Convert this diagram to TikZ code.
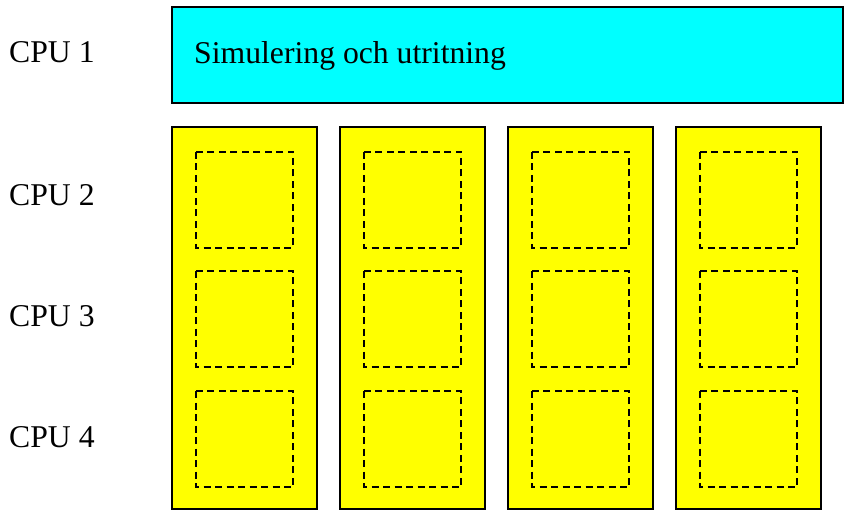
\documentclass[tikz,border=0pt]{standalone}
\usepackage{fontspec}
\setmainfont{Liberation Serif}
\begin{document}
\begin{tikzpicture}[x=1pt,y=-1pt,
  lbl/.style={anchor=base west,inner sep=0pt,font=\fontsize{31.7}{36}\selectfont},
  topbox/.style={draw=black,fill=cyanfill,line width=1.7pt},
  colbox/.style={draw=black,fill=yellowfill,line width=1.7pt},
  slot/.style={draw=black,dash pattern=on 7pt off 4.5pt,line width=1.8pt}]
\definecolor{cyanfill}{RGB}{0,255,255}
\definecolor{yellowfill}{RGB}{255,255,0}
\useasboundingbox (0,0) rectangle (846,513);
\path[topbox] (172,7) rectangle (843,103);
\node[lbl] (sim) at (194,64) {Simulering och utritning};
\node[lbl] (c1) at (9,63) {CPU 1};
\node[lbl] (c2) at (9,206) {CPU 2};
\node[lbl] (c3) at (9,326) {CPU 3};
\node[lbl] (c4) at (9,447) {CPU 4};
\foreach \x in {172,340,508,676}{
  \path[colbox] (\x,127) rectangle (\x+145,509);
  \foreach \y in {152,271,391}{
    \path[slot] (\x+24,\y) rectangle (\x+121,\y+96);
  }
}
\end{tikzpicture}
\end{document}
